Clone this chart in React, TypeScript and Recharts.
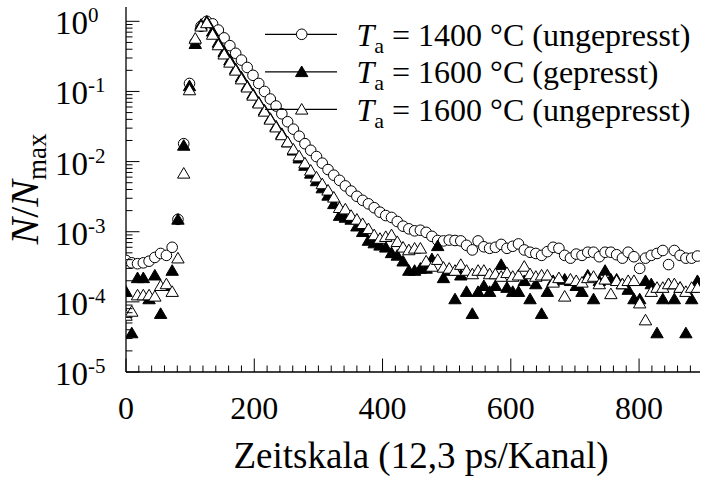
import React from 'react';
import { ScatterChart, Scatter, XAxis, YAxis } from 'recharts';

// channel numbers (every 9th channel)
const channels = [
  0, 9, 18, 27, 36, 45, 54, 63, 72, 81,
  90, 99, 108, 117, 126, 135, 144, 153, 162, 171,
  180, 189, 198, 207, 216, 225, 234, 243, 252, 261,
  270, 279, 288, 297, 306, 315, 324, 333, 342, 351,
  360, 369, 378, 387, 396, 405, 414, 423, 432, 441,
  450, 459, 468, 477, 486, 495, 504, 513, 522, 531,
  540, 549, 558, 567, 576, 585, 594, 603, 612, 621,
  630, 639, 648, 657, 666, 675, 684, 693, 702, 711,
  720, 729, 738, 747, 756, 765, 774, 783, 792, 801,
  810, 819, 828, 837, 846, 855, 864, 873, 882, 891,
];

// Ta = 1400 °C, ungepresst
const ungepresst1400 = [
  3.9e-4, 3.6e-4, 3.5e-4, 3.6e-4, 3.8e-4, 4.3e-4, 4.9e-4, 4.6e-4, 6.0e-4, 1.5e-3,
  0.018, 0.13, 0.5, 0.85, 1.0, 0.92, 0.75, 0.58, 0.45, 0.35,
  0.28, 0.22, 0.17, 0.13, 0.1, 0.078, 0.062, 0.048, 0.037, 0.029,
  0.023, 0.018, 0.0145, 0.0118, 0.0095, 0.0077, 0.0064, 0.0054, 0.0045, 0.0038,
  0.0032, 0.0028, 0.0025, 0.0022, 0.0019, 0.0017, 0.0016, 0.0014, 0.0012, 0.0011,
  0.00103, 0.00105, 0.00098, 0.00086, 0.00075, 0.00074, 0.00076, 0.00075, 0.00074, 0.00064,
  0.00055, 0.00074, 0.00061, 0.00058, 0.0006, 0.00066, 0.00058, 0.00062, 0.00067, 0.00055,
  0.00051, 0.00049, 0.00046, 0.00052, 0.0006, 0.00058, 0.00046, 0.00042, 0.00048, 0.00046,
  0.00051, 0.00051, 0.00044, 0.00051, 0.00051, 0.00047, 0.00042, 0.00051, 0.00044, 0.0003,
  0.00042, 0.00046, 0.00049, 0.00054, 0.00034, 0.00054, 0.00046, 0.00042, 0.00042, 0.00045,
];

// Ta = 1600 °C, gepresst
const gepresst1600 = [
  1.4e-4, 3.6e-5, 2.2e-4, 2.2e-4, 1.1e-4, 2.4e-4, 6.8e-5, 1.7e-4, 2.8e-4, 1.5e-3,
  0.017, 0.12, 0.48, 0.9, 1.0, 0.72, 0.5, 0.37, 0.28, 0.21,
  0.16, 0.12, 0.092, 0.07, 0.054, 0.041, 0.032, 0.025, 0.019, 0.0145,
  0.0112, 0.0088, 0.0068, 0.0053, 0.0042, 0.0033, 0.0025, 0.0017, 0.0016, 0.0015,
  0.0012, 0.001, 0.00075, 0.00069, 0.00064, 0.0006, 0.0005, 0.00046, 0.00038, 0.00028,
  0.00028, 0.0003, 0.0003, 0.00041, 0.00063, 0.00022, 0.00028, 0.00011, 0.00024, 0.00014,
  0.000068, 0.00014, 0.00017, 0.00014, 0.00017, 0.00034, 0.00016, 0.00014, 0.00014, 0.0002,
  0.00011, 0.00018, 0.000068, 0.00014, 0.0002, 0.00021, 0.00021, 0.0002, 0.00017, 0.00014,
  0.00024, 0.00011, 0.0002, 0.00028, 0.00021, 0.00021, 0.00018, 0.00015, 0.00011, 0.00011,
  0.0002, 0.00018, 0.000036, 0.00011, 0.00018, 0.00011, 0.00016, 0.000036, 0.00011, 0.0002,
];

// Ta = 1600 °C, ungepresst
const ungepresst1600 = [
  6.4e-5, 7.3e-5, 1.25e-4, 1.25e-4, 1.25e-4, 1.2e-4, 1.7e-4, 1.8e-4, 1.4e-4, 4.2e-4,
  0.0068, 0.105, 0.57, 0.85, 0.95, 0.65, 0.46, 0.34, 0.26, 0.2,
  0.15, 0.115, 0.088, 0.068, 0.052, 0.04, 0.031, 0.024, 0.019, 0.015,
  0.012, 0.0095, 0.0075, 0.006, 0.0048, 0.0039, 0.0031, 0.0022, 0.0021, 0.0017,
  0.0015, 0.0013, 0.0011, 0.0009, 0.0008, 0.00085, 0.0009, 0.00072, 0.0006, 0.00055,
  0.00058, 0.00058, 0.00038, 0.00032, 0.0004, 0.00031, 0.0003, 0.00028, 0.00034, 0.00028,
  0.00025, 0.00028, 0.00028, 0.00025, 0.00025, 0.00023, 0.00026, 0.00023, 0.00024, 0.00032,
  0.00025, 0.00023, 0.00024, 0.00024, 0.00019, 0.00022, 0.00012, 0.00021, 0.0002, 0.00019,
  0.00022, 0.00023, 0.00018, 0.00021, 0.00013, 0.0002, 0.00018, 0.0002, 0.0002, 0.000096,
  0.000055, 0.00014, 0.00016, 0.00016, 0.00018, 0.00018, 0.00016, 0.00014, 0.00016, 0.00016,
];

const legendTemps = ['1400', '1600', '1600'];
const legendStates = ['ungepresst', 'gepresst', 'ungepresst'];

const xMajorTicks = [0, 200, 400, 600, 800];
const xTicks = Array.from({ length: 45 }, (_, i) => i * 20);
const yTicks: number[] = [];
for (let e = -5; e <= 0; e++) {
  for (let k = 1; k <= 9; k++) {
    if (e === 0 && k > 1) break;
    yTicks.push(Number((k * Math.pow(10, e)).toPrecision(3)));
  }
}

const FONT =
  "'Times New Roman', 'Liberation Serif', Tinos, 'Nimbus Roman', 'Nimbus Roman No9 L', FreeSerif, 'DejaVu Serif', serif";
const txt = { fontFamily: FONT };
const MAJOR = 13.5;
const MINOR = 6.5;

const toPoints = (vals: number[]) => channels.map((x, i) => ({ x, y: vals[i] }));

const isDecade = (v: number) => {
  const e = Math.log10(v);
  return Math.abs(e - Math.round(e)) < 1e-6;
};

const CircleMark = (p: any) => (
  <circle cx={p.cx} cy={p.cy} r={5.3} fill="#fff" stroke="#000" strokeWidth={1} />
);

const triPath = (cx: number, cy: number) =>
  `M${cx},${cy - 5.8} L${cx + 6.2},${cy + 4.8} L${cx - 6.2},${cy + 4.8} Z`;

const FilledTri = (p: any) => <path d={triPath(p.cx, p.cy)} fill="#000" stroke="#000" strokeWidth={1} />;
const OpenTri = (p: any) => <path d={triPath(p.cx, p.cy)} fill="#fff" stroke="#000" strokeWidth={1} />;

const LeftTick = ({ x, y, payload }: any) => {
  const v = payload.value;
  const major = isDecade(v);
  return (
    <g>
      <line x1={x} x2={x + (major ? MAJOR : MINOR)} y1={y} y2={y} stroke="#000" strokeWidth={1} />
      {major && (
        <text x={55} y={y + 13} fontSize={33} style={txt} fill="#000">
          10
          <tspan fontSize={21} dy={-12}>{Math.round(Math.log10(v))}</tspan>
        </text>
      )}
    </g>
  );
};

const RightTick = ({ x, y, payload }: any) => {
  const major = isDecade(payload.value);
  return <line x1={x} x2={x - (major ? MAJOR : MINOR)} y1={y} y2={y} stroke="#000" strokeWidth={1} />;
};

const BottomTick = ({ x, y, payload }: any) => {
  const major = xMajorTicks.includes(payload.value);
  return (
    <g>
      <line x1={x} x2={x} y1={y} y2={y - (major ? MAJOR : MINOR)} stroke="#000" strokeWidth={1} />
      {major && (
        <text x={x} y={y + 47} textAnchor="middle" fontSize={32} style={txt} fill="#000">
          {payload.value}
        </text>
      )}
    </g>
  );
};

const TopTick = ({ x, y, payload }: any) => {
  const major = xMajorTicks.includes(payload.value);
  return <line x1={x} x2={x} y1={y} y2={y + (major ? MAJOR : MINOR)} stroke="#000" strokeWidth={1} />;
};

const legendMarks = [CircleMark, FilledTri, OpenTri];

const Overlay = () => (
  <svg width={702} height={483} style={{ position: 'absolute', left: 0, top: 0, pointerEvents: 'none' }}>
    <text transform="translate(38,189) rotate(-90)" textAnchor="middle" fontSize={40} style={txt} fill="#000">
      <tspan fontStyle="italic">N</tspan>/<tspan fontStyle="italic">N</tspan>
      <tspan fontSize={27} dy={8}>max</tspan>
    </text>
    <text x={421} y={468} textAnchor="middle" fontSize={37} style={txt} fill="#000">
      Zeitskala (12,3 ps/Kanal)
    </text>
    {legendTemps.map((t, i) => {
      const ry = 34.3 + i * 37.5;
      const Mark = legendMarks[i];
      return (
        <g key={i}>
          <line x1={265} x2={337} y1={ry} y2={ry} stroke="#000" strokeWidth={1.2} />
          <Mark cx={301.7} cy={ry} />
          <text x={356.5} y={ry + 11.5} fontSize={32} style={txt} fill="#000">
            <tspan fontStyle="italic">T</tspan>
            <tspan fontSize={22} dy={7}>a</tspan>
            <tspan dy={-7}>{` = ${t} °C (${legendStates[i]})`}</tspan>
          </text>
        </g>
      );
    })}
  </svg>
);

const App = () => {
  const axisLine = { stroke: '#000', strokeWidth: 1.3 };
  return (
    <div style={{ position: 'absolute', left: 0, top: 0, width: 702, height: 483, background: '#fff' }}>
      <ScatterChart width={702} height={483} margin={{ top: 7, right: 2, bottom: 0, left: 0 }}>
        <XAxis
          dataKey="x"
          type="number"
          domain={[0, 895]}
          ticks={xTicks}
          interval={0}
          height={111}
          tickSize={0}
          tickMargin={0}
          axisLine={axisLine}
          tickLine={false}
          tick={<BottomTick />}
          allowDataOverflow
        />
        <XAxis
          xAxisId="top"
          orientation="top"
          type="number"
          domain={[0, 895]}
          ticks={xTicks}
          interval={0}
          height={0}
          tickSize={0}
          tickMargin={0}
          axisLine={axisLine}
          tickLine={false}
          tick={<TopTick />}
          allowDataOverflow
        />
        <YAxis
          dataKey="y"
          type="number"
          scale="log"
          domain={[1e-5, 1.6]}
          ticks={yTicks}
          interval={0}
          width={126}
          tickSize={0}
          tickMargin={0}
          axisLine={axisLine}
          tickLine={false}
          tick={<LeftTick />}
          allowDataOverflow
        />
        <YAxis
          yAxisId="right"
          orientation="right"
          type="number"
          scale="log"
          domain={[1e-5, 1.6]}
          ticks={yTicks}
          interval={0}
          width={0}
          tickSize={0}
          tickMargin={0}
          axisLine={axisLine}
          tickLine={false}
          tick={<RightTick />}
          allowDataOverflow
        />
        <Scatter data={toPoints(ungepresst1400)} shape={CircleMark} isAnimationActive={false} />
        <Scatter data={toPoints(gepresst1600)} shape={FilledTri} isAnimationActive={false} />
        <Scatter data={toPoints(ungepresst1600)} shape={OpenTri} isAnimationActive={false} />
      </ScatterChart>
      <Overlay />
    </div>
  );
};

export default App;
